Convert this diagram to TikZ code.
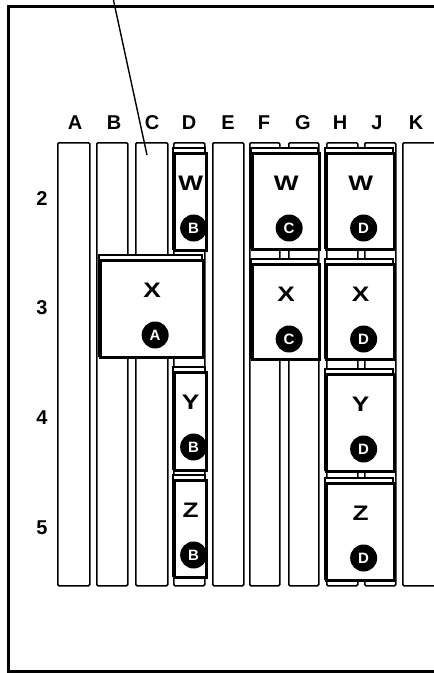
\documentclass[tikz,border=0pt]{standalone}
\usepackage{fontspec}
\setmainfont{Liberation Sans}
\begin{document}
\begin{tikzpicture}[x=1pt,y=-1pt,
  strip/.style={draw, line width=1.5pt, rounded corners=1.2pt, fill=white, anchor=north west, inner sep=0pt},
  modthin/.style={draw, line width=1.4pt, fill=white},
  modthick/.style={draw, line width=3.3pt, fill=white, anchor=north west, inner sep=0pt},
  lab/.style={font=\fontsize{20}{22}\selectfont\bfseries, inner sep=0pt},
  mlab/.style={font=\fontsize{21}{23}\selectfont\bfseries, inner sep=0pt},
  badge/.style={circle, fill=black, minimum size=27pt, inner sep=0pt, text=white, font=\fontsize{15}{16}\selectfont\bfseries}
]
\newcommand\modbox[7]{%
  \draw[modthin] ({#2},{#3-4}) rectangle ({#4},{#5});
  \node[modthick, minimum width={#4-#2}, minimum height={#5-#3}] (#1) at (#2,#3) {};
  \node[mlab] (#1t) at ([yshift=-31pt]#1.north) {\scalebox{1.25}[1]{#6}};
  \node[badge] (#1b) at ([xshift=3pt,yshift=-76pt]#1.north) {#7};
}
\useasboundingbox (0,0) rectangle (434,673);
\clip (0,0) rectangle (434,673);
\node[draw, line width=3pt, anchor=north west, minimum width=460pt, minimum height=665pt, inner sep=0pt] (frame) at (7,5) {};
% strips
\foreach \n/\l/\w in {A/57/32,B/96/31,C/135/32,D/173/31,E/212/31,F/249/30,G/288/30,H/326/31,J/364/31,K/402/45} {
  \node[strip, minimum width=\w pt, minimum height=443pt] (s\n) at (\l,142) {};
}
% column labels
\foreach \n/\x in {A/75,B/114,C/152,D/189,E/228,F/264,G/303,H/340,J/377,K/416} {
  \node[lab] (c\n) at (\x,123) {\n};
}
% row labels
\foreach \r/\y in {2/199,3/308,4/418,5/528} {
  \node[lab] (r\r) at (42,\y) {\r};
}
% modules
\modbox{mDW}{173}{152}{205}{249}{W}{B}
\modbox{mX}{99}{259}{202}{356}{X}{A}
\modbox{mDY}{173}{371}{205}{469}{Y}{B}
\modbox{mDZ}{173}{479}{205}{576}{Z}{B}
\modbox{mFW}{251}{152}{318}{248}{W}{C}
\modbox{mFX}{251}{263}{318}{358}{X}{C}
\modbox{mHW}{325}{152}{393}{248}{W}{D}
\modbox{mHX}{325}{263}{393}{358}{X}{D}
\modbox{mHY}{325}{373}{393}{470}{Y}{D}
\modbox{mHZ}{325}{482}{393}{579}{Z}{D}
% leader
\coordinate (lt) at (113,-2);
\coordinate (lb) at (147,155);
\draw[line width=1.4pt] (lt) -- (lb);
\end{tikzpicture}
\end{document}
